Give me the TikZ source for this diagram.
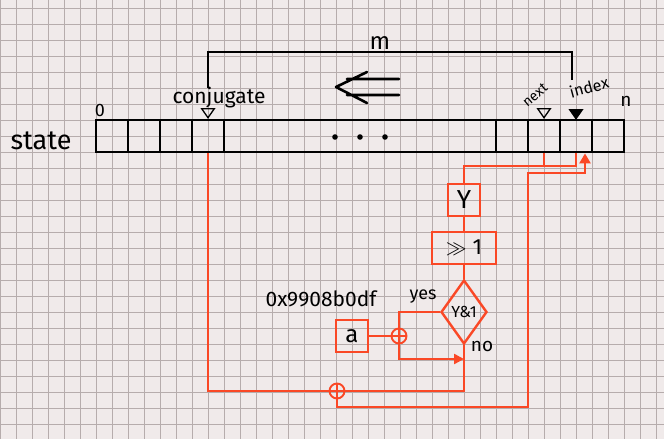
\documentclass[tikz,border=0pt]{standalone}
\usepackage{fontspec}
\setmainfont{Fira Sans}
\usetikzlibrary{shapes.geometric,arrows.meta}
\definecolor{paper}{RGB}{240,234,234}
\definecolor{gridgray}{RGB}{182,172,172}
\definecolor{wirered}{RGB}{250,72,38}
\newcommand{\fs}[1]{\fontsize{#1}{#1}\selectfont}
\begin{document}
\begin{tikzpicture}[
    x=1pt, y=-1pt,
    cell/.style={draw=black, line width=2.8pt, minimum width=32pt, minimum height=32pt, inner sep=0pt},
    redbox/.style={draw=wirered, line width=2.4pt, minimum height=32pt, inner sep=0pt, font=\fs{22}},
    wire/.style={draw=wirered, line width=2.4pt},
    xorop/.style={circle, draw=wirered, line width=1.9pt, minimum size=15pt, inner sep=0pt,
        path picture={\draw[wirered, line width=1.7pt]
            (path picture bounding box.north) -- (path picture bounding box.south)
            (path picture bounding box.west) -- (path picture bounding box.east);}},
    marker/.style={isosceles triangle, shape border rotate=-90, isosceles triangle apex angle=70,
        minimum height=9pt, minimum width=10pt, inner sep=0pt, draw=black, line width=1.3pt},
    lbl/.style={font=\fs{16}, inner sep=1pt}
]
    % Paper
    \useasboundingbox (0,0) rectangle (664,439);
    \fill[paper] (0,0) rectangle (664,439);
    \foreach \gx in {0,16,...,656} \draw[gridgray, line width=0.5pt] (\gx,0) -- (\gx,439);
    \foreach \gy in {8,24,...,432} \draw[gridgray, line width=0.5pt] (0,\gy) -- (664,\gy);

    % State array
    \node[cell] (s0) at (112,136) {};
    \node[cell] (s1) at (144,136) {};
    \node[cell] (s2) at (176,136) {};
    \node[cell] (s3) at (208,136) {};
    \node[cell, minimum width=272pt] (smid) at (360,136) {};
    \node[cell] (r0) at (512,136) {};
    \node[cell] (r1) at (544,136) {};
    \node[cell] (r2) at (576,136) {};
    \node[cell] (r3) at (608,136) {};
    \foreach \dx in {335,360,385} \fill (\dx,137) circle (2.8pt);

    \node[font=\fs{27}] (statelbl) at (41,141) {state};
    \node[lbl, font=\fs{18}] (first) at (100,110) {0};
    \node[lbl, font=\fs{19}] (last) at (626,101) {n};

    % Pointers
    \node[marker] (conjtri) at (208,112) {};
    \node[lbl, font=\fs{21}] (conj) at (219,98) {conjugate};
    \node[marker] (nexttri) at (544,112) {};
    \node[lbl, font=\fs{14}, rotate=40] (nextlbl) at (535,95) {next};
    \node[marker, fill=black] (idxtri) at (576,113) {};
    \node[lbl, font=\fs{16}, rotate=15] (idxlbl) at (589,87) {index};

    % Distance m
    \coordinate (mleft) at (208,88);
    \coordinate (mright) at (572,80);
    \draw[line width=2.2pt] (mleft) -- (208,52) -| (mright);
    \node[font=\fs{24}] (mlbl) at (380,43) {m};

    % Direction
    \draw[line width=2.6pt, line cap=round, line join=round]
        (367,72) -- (336,87) -- (367,103) (347,79) -- (399,79) (347,95) -- (399,95);

    % Twist
    \node[redbox, minimum width=32pt, font=\fs{26}] (ybox) at (464,200) {Y};
    \node[redbox, minimum width=64pt] (shr) at (464,248) {$\gg$ 1};
    \node[diamond, draw=wirered, line width=2.4pt, minimum width=46pt, minimum height=64pt,
        inner sep=0pt, font=\fs{16}] (test) at (464,312) {Y\&1};
    \node[redbox, minimum width=32pt, font=\fs{24}] (abox) at (352,336) {a};
    \node[xorop] (xora) at (399,336) {};
    \node[xorop] (xorb) at (337,391) {};

    \node[lbl, font=\fs{21}] (hex) at (321,299) {0x9908b0df};
    \node[lbl, font=\fs{18}] (yes) at (423,297) {yes};
    \node[lbl, font=\fs{19}] (no) at (482,346) {no};

    \coordinate (tap) at (464,166);
    \coordinate (nojoin) at (464,359);
    \coordinate (ret1) at (528,407);
    \coordinate (ret2) at (528,173);

    \draw[wire] (r2.south) |- (tap) -- (ybox.north);
    \draw[wire] (r1.south) -- (r1.south |- tap);
    \draw[wire] (ybox.south) -- (shr.north);
    \draw[wire] (shr.south) -- (test.north);
    \draw[wire] (test.west) -| (xora.north);
    \draw[wire] (abox.east) -- (xora.west);
    \draw[wire, -{Triangle[length=10pt, width=10pt]}] (xora.south) |- (nojoin);
    \draw[wire] (test.south) |- (xorb.east);
    \draw[wire] (s3.south) |- (xorb.west);
    \draw[wire, -{Triangle[length=10pt, width=11pt]}] (xorb.south) |- (ret1) -- (ret2) -| ([xshift=9pt]r2.south);
\end{tikzpicture}
\end{document}
